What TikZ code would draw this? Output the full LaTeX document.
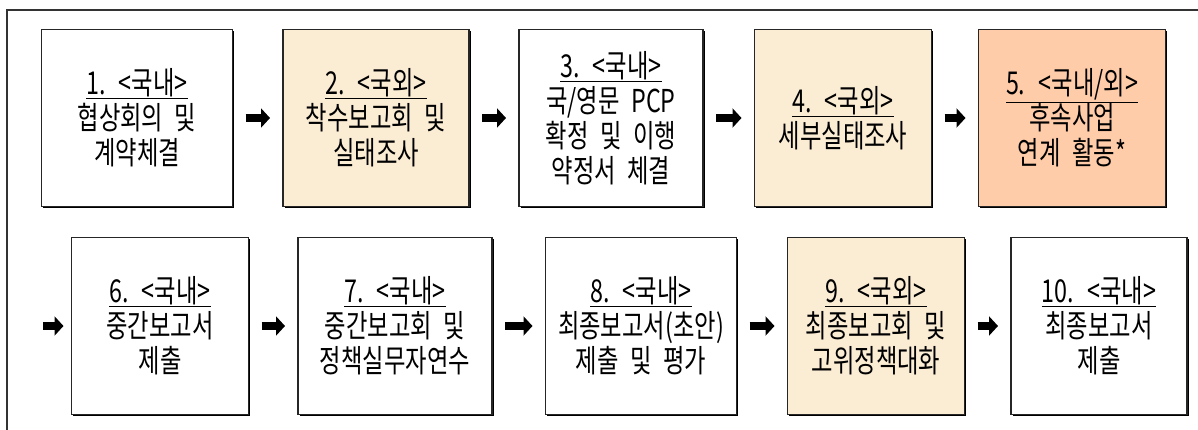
\documentclass[tikz,border=0pt]{standalone}
\usepackage{fontspec}
\setmainfont{Noto Sans CJK KR}[FakeStretch=0.74, WordSpace=2.2]
\usetikzlibrary{arrows.meta,shadows}
\definecolor{abroad}{RGB}{251,236,212}
\definecolor{followup}{RGB}{255,204,170}
\tikzset{
  stepbox/.style={draw=black!85, line width=1.3pt, fill=white, minimum height=177pt,
    align=center, inner sep=0pt, outer sep=0pt, font=\fontsize{31.5}{35}\selectfont,
    drop shadow={shadow xshift=1.6pt, shadow yshift=-1.6pt, fill=black, opacity=1}},
  flow/.style={line width=8pt, -{Triangle[length=9pt,width=19pt]},
    shorten <=13pt, shorten >=13pt}
}
\newcommand{\stephead}[1]{\underline{#1}}
\begin{document}
\begin{tikzpicture}[x=1pt, y=-1pt]
                \useasboundingbox (0,0) rectangle (1198,430);
                \def\ya{118}
                \def\yb{326}
                % Draw the outer frame
                \draw[line width=1.3pt, black!80] (7,430) -- (7,10) -- (1198,10);

                % Draw the first row of steps
                \node[stepbox, minimum width=191pt] (s1) at (137,\ya)
                  {\stephead{1. <국내>}\\협상회의 및\\계약체결};
                \node[stepbox, minimum width=186pt, fill=abroad] (s2) at (376,\ya)
                  {\stephead{2. <국외>}\\착수보고회 및\\실태조사};
                \node[stepbox, minimum width=184pt] (s3) at (611,\ya)
                  {\stephead{3. <국내>}\\국/영문 PCP\\확정 및 이행\\약정서 체결};
                \node[stepbox, minimum width=177pt, fill=abroad] (s4) at (843,\ya)
                  {\stephead{4. <국외>}\\세부실태조사};
                \node[stepbox, minimum width=187pt, fill=followup] (s5) at (1072,\ya)
                  {\stephead{5. <국내/외>}\\후속사업\\연계 활동*};

                % Draw the second row of steps
                \node[stepbox, minimum width=177pt] (s6) at (160,\yb)
                  {\stephead{6. <국내>}\\중간보고서\\제출};
                \node[stepbox, minimum width=194pt] (s7) at (395,\yb)
                  {\stephead{7. <국내>}\\중간보고회 및\\정책실무자연수};
                \node[stepbox, minimum width=191pt] (s8) at (641,\yb)
                  {\stephead{8. <국내>}\\최종보고서(초안)\\제출 및 평가};
                \node[stepbox, minimum width=177pt, fill=abroad] (s9) at (876,\yb)
                  {\stephead{9. <국외>}\\최종보고회 및\\고위정책대화};
                \node[stepbox, minimum width=176pt] (s10) at (1099,\yb)
                  {\stephead{10. <국내>}\\최종보고서\\제출};

                % Draw the arrows between the steps
                \foreach \a/\b in {s1/s2, s2/s3, s3/s4, s4/s5, s6/s7, s7/s8, s8/s9, s9/s10} {
                \draw[flow] (\a) -- (\b);
                }
                \coordinate (rowin) at (43,\yb);
                \draw[flow, shorten <=0pt, shorten >=8pt] (rowin) -- (s6);

            \end{tikzpicture}
\end{document}
